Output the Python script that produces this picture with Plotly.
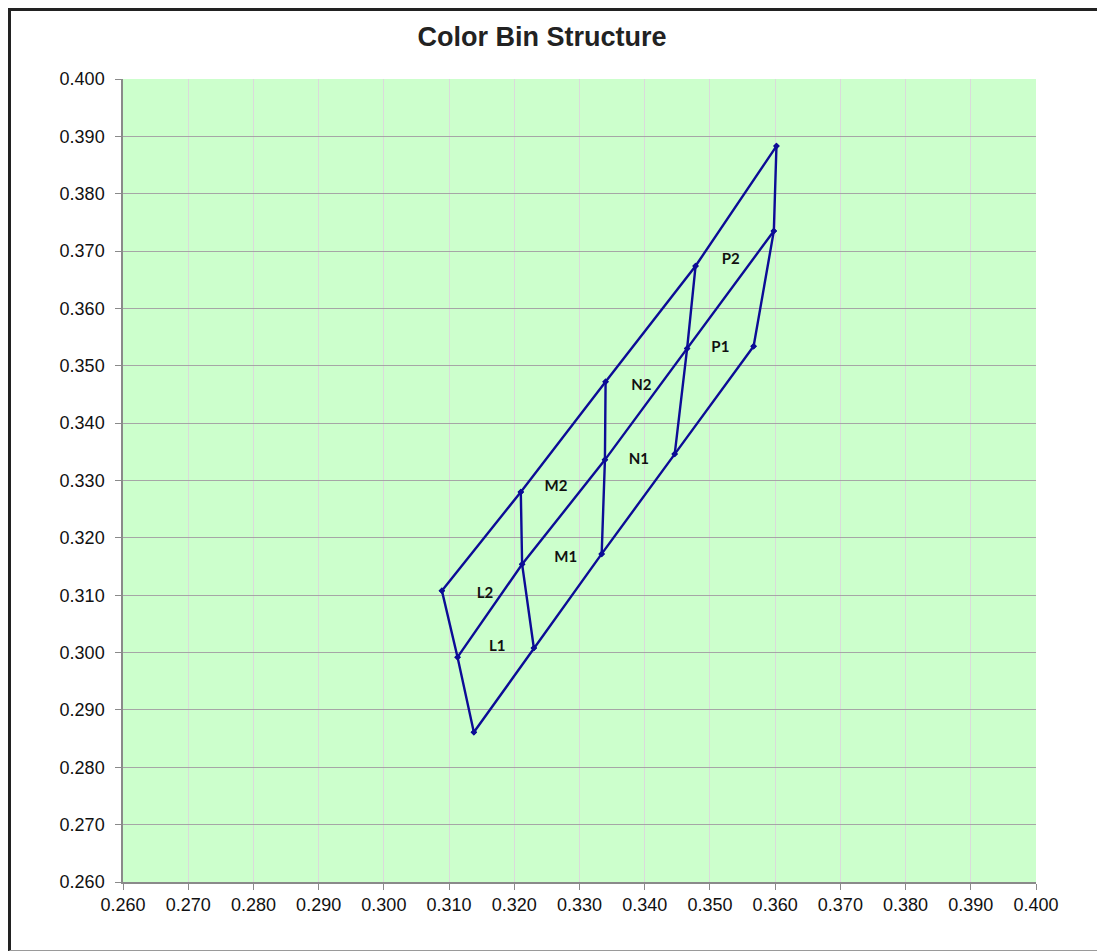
import plotly.graph_objects as go

# Bin boundary lines (CIE x, y)
upper_x = [0.3089, 0.3210, 0.3340, 0.3478, 0.3602]
upper_y = [0.3108, 0.3280, 0.3472, 0.3674, 0.3883]
middle_x = [0.3113, 0.3212, 0.3339, 0.3465, 0.3598]
middle_y = [0.2992, 0.3154, 0.3336, 0.3530, 0.3735]
lower_x = [0.3138, 0.3230, 0.3334, 0.3446, 0.3567]
lower_y = [0.2861, 0.3008, 0.3172, 0.3346, 0.3534]

bin_labels = ["L1", "L2", "M1", "M2", "N1", "N2", "P1", "P2"]
label_x = [0.3174, 0.3155, 0.3279, 0.3264, 0.3391, 0.3395, 0.3516, 0.3532]
label_y = [0.3010, 0.3102, 0.3165, 0.3288, 0.3335, 0.3465, 0.3531, 0.3684]

tick_vals = [0.26 + 0.01 * i for i in range(15)]
tick_text = ["%.3f" % v for v in tick_vals]

LINE = "#0c0c96"
fig = go.Figure()

def add_line(xs, ys):
    fig.add_trace(go.Scatter(
        x=xs, y=ys, mode="lines+markers",
        line=dict(color=LINE, width=2.4),
        marker=dict(symbol="diamond", size=5, color=LINE),
        showlegend=False, hoverinfo="x+y"))

add_line(upper_x, upper_y)
add_line(middle_x, middle_y)
add_line(lower_x, lower_y)
for i in range(len(upper_x)):
    add_line([upper_x[i], middle_x[i], lower_x[i]],
             [upper_y[i], middle_y[i], lower_y[i]])

fig.add_trace(go.Scatter(
    x=label_x, y=label_y, mode="text",
    text=["<b>%s</b>" % s for s in bin_labels],
    textfont=dict(family="Lato", size=15, color="#111111"),
    textposition="middle center", showlegend=False, hoverinfo="skip"))

# page body has an 8px margin, so work in figure pixels = screen - 8
W, H = 1097, 944
L, R, T, B = 115, 69, 71, 70
pw, ph = W - L - R, H - T - B

def px_x(p):
    return (p - L) / pw

def px_y(p):
    return 1 - (p - T) / ph

shapes = [
    dict(type="line", xref="paper", yref="paper", x0=px_x(1.5), x1=px_x(1.5),
         y0=px_y(0), y1=px_y(943), line=dict(color="#222222", width=3)),
    dict(type="line", xref="paper", yref="paper", x0=px_x(0), x1=px_x(1096),
         y0=px_y(1.5), y1=px_y(1.5), line=dict(color="#222222", width=3)),
    dict(type="line", xref="paper", yref="paper", x0=px_x(1095.5), x1=px_x(1095.5),
         y0=px_y(1.5), y1=px_y(942.5), line=dict(color="#9a9a9a", width=1)),
    dict(type="line", xref="paper", yref="paper", x0=px_x(1.5), x1=px_x(1096),
         y0=px_y(942.5), y1=px_y(942.5), line=dict(color="#9a9a9a", width=1)),
]

axis_common = dict(
    tickvals=tick_vals, ticktext=tick_text, range=[0.26, 0.40],
    showline=True, linecolor="#8a8a8a", linewidth=1.5,
    ticks="outside", ticklen=6, tickcolor="#8a8a8a", tickwidth=1,
    tickfont=dict(family="Liberation Sans", size=18, color="#111111"),
    zeroline=False, mirror=False,
)

fig.update_layout(
    width=W, height=H,
    margin=dict(l=L, r=R, t=T, b=B),
    paper_bgcolor="white", plot_bgcolor="#ccffcc",
    title=dict(text="<b>Color Bin Structure</b>", x=534 / W, xanchor="center",
               y=1 - 29 / H, yanchor="middle", yref="container",
               font=dict(family="Liberation Sans", size=27, color="#222222")),
    xaxis=dict(**axis_common, showgrid=True, gridcolor="#dadada", gridwidth=1),
    yaxis=dict(**axis_common, showgrid=True, gridcolor="#a6a6a6", gridwidth=1,
               ticklabelstandoff=7),
    shapes=shapes,
    showlegend=False,
)

fig.write_html("out.html")
